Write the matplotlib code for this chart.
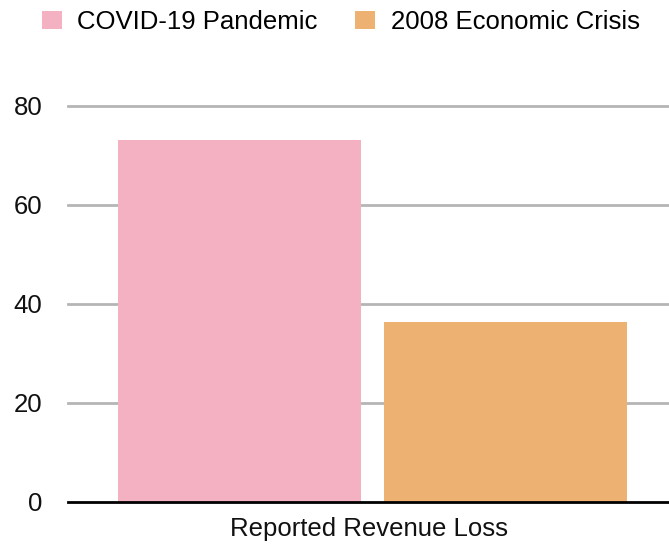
import matplotlib
matplotlib.use('Agg')
from matplotlib import pyplot as plt

plt.rcParams['font.family'] = ['Liberation Sans', 'DejaVu Sans']

categories = ['Reported Revenue Loss']
series = ['COVID-19 Pandemic', '2008 Economic Crisis']
values = [[73], [36.3]]
colors = ['#F4B1C1', '#EDB172']
yticks = [0, 20, 40, 60, 80]

fig = plt.figure(figsize=(6.69, 5.44), dpi=100)
ax = fig.add_axes([68/669, 42.5/544, 1 - 68/669, (501.5-105.5)/544])

offsets = [-0.215, 0.228]
width = 0.405
handles = []
for i in range(len(series)):
    xs = [j + offsets[i] for j in range(len(categories))]
    b = ax.bar(xs, values[i], width, color=colors[i], label=series[i], zorder=3)
    handles.append(b)

ax.set_xlim(-0.5, 0.5)
ax.set_ylim(0, 80)
ax.set_yticks(yticks)
ax.set_xticks(range(len(categories)))
ax.set_xticklabels(categories)
ax.tick_params(axis='both', length=0, labelsize=18.5, colors='#111111')
ax.tick_params(axis='y', pad=18.5)
ax.tick_params(axis='x', pad=11.5)
for y in yticks[1:]:
    ax.axhline(y, color='#b5b5b5', linewidth=2, zorder=1, clip_on=False)
ax.axhline(0, color='black', linewidth=2, zorder=4, clip_on=False)
for s in ax.spines.values():
    s.set_visible(False)

fig.legend(handles=handles, labels=series, loc='center left',
           bbox_to_anchor=(41.5/669, 1 - 22/544),
           ncol=2, frameon=False, fontsize=18.5, handlelength=0.78, handleheight=0.75,
           handletextpad=0.62, columnspacing=1.44, borderpad=0, borderaxespad=0)

fig.savefig('out.png', dpi=100)
